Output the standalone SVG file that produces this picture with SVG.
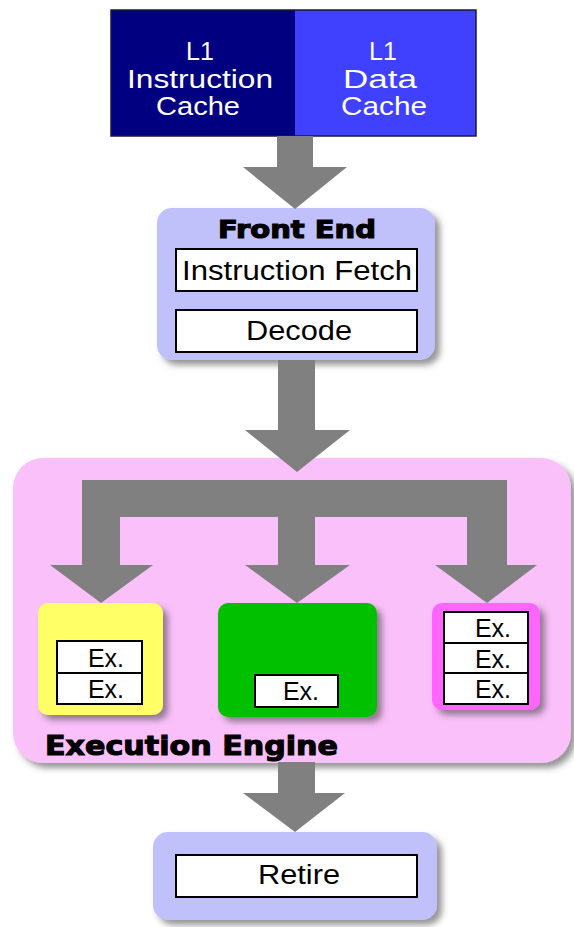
<svg xmlns="http://www.w3.org/2000/svg" width="574" height="927" viewBox="0 0 574 927">
<defs>
<filter id="sh" x="-10%" y="-10%" width="130%" height="130%">
<feDropShadow dx="5" dy="5" stdDeviation="3" flood-color="#404040" flood-opacity="0.55"/>
</filter>
<style>
.t{font-family:"Liberation Sans",Arial,sans-serif;fill:#000;text-anchor:middle}
.w{font-family:"Liberation Sans",Arial,sans-serif;fill:#fff;text-anchor:middle;font-size:25px}
.h{font-family:"DejaVu Sans","Liberation Sans",sans-serif;font-weight:bold;fill:#000;stroke:#000;stroke-width:1.1}
.box{fill:#fff;stroke:#000;stroke-width:2}
.arr{fill:#808080}
</style>
</defs>
<rect width="574" height="927" fill="#fff"/>

<g id="l1-cache">
<rect x="111" y="10" width="184" height="126" fill="#000080"/>
<rect x="295" y="10" width="181" height="126" fill="#4040FF"/>
<rect x="111" y="10" width="365" height="126" fill="none" stroke="#1a1a3a" stroke-width="1.5"/>
<text class="w" x="200" y="60">L1</text>
<text class="w" x="200" y="88" textLength="146" lengthAdjust="spacingAndGlyphs">Instruction</text>
<text class="w" x="198" y="115" textLength="84" lengthAdjust="spacingAndGlyphs">Cache</text>
<text class="w" x="383" y="60">L1</text>
<text class="w" x="380" y="88" textLength="74" lengthAdjust="spacingAndGlyphs">Data</text>
<text class="w" x="384" y="115" textLength="86" lengthAdjust="spacingAndGlyphs">Cache</text>
</g>

<g id="front-end">
<rect x="157" y="208" width="278" height="152" rx="15" fill="#C0C0FA" filter="url(#sh)"/>
<text class="h" x="297" y="238" font-size="24" text-anchor="middle" textLength="158" lengthAdjust="spacingAndGlyphs">Front End</text>
<rect class="box" x="176" y="249" width="241" height="42"/>
<text class="t" x="297" y="280" font-size="27" textLength="230" lengthAdjust="spacingAndGlyphs">Instruction Fetch</text>
<rect class="box" x="176" y="310" width="241" height="42"/>
<text class="t" x="299" y="340" font-size="27" textLength="106" lengthAdjust="spacingAndGlyphs">Decode</text>
</g>

<g id="execution-engine">
<rect x="13" y="458" width="558" height="305" rx="30" fill="#FAC0FA" filter="url(#sh)"/>
<text class="h" x="45" y="755" font-size="27" textLength="293" lengthAdjust="spacingAndGlyphs">Execution Engine</text>
</g>

<g id="connectors">
<polygon class="arr" points="277,136 313,136 313,167 347,167 295,209 243,167 277,167"/>
<polygon class="arr" points="278,360 315,360 315,430 350,430 297,472 245,430 278,430"/>
<polygon class="arr" points="82,480 507,480 507,565 537,565 487,603 435,565 467,565 467,517 315,517 315,565 350,565 297,603 245,565 278,565 278,517 120,517 120,565 153,565 101,603 50,565 82,565"/>
<polygon class="arr" points="278,762 315,762 315,793 345,793 295,832 243,793 278,793"/>
</g>

<g id="unit-yellow">
<rect x="38" y="603" width="125" height="112" rx="10" fill="#FFFF66" filter="url(#sh)"/>
<rect class="box" x="57" y="641" width="85" height="32"/>
<rect class="box" x="57" y="673" width="85" height="31"/>
<text class="t" x="106" y="667" font-size="25">Ex.</text>
<text class="t" x="106" y="698" font-size="25">Ex.</text>
</g>

<g id="unit-green">
<rect x="218" y="603" width="159" height="114" rx="10" fill="#00C000" filter="url(#sh)"/>
<rect class="box" x="255" y="675" width="83" height="32"/>
<text class="t" x="301" y="700" font-size="25">Ex.</text>
</g>

<g id="unit-magenta">
<rect x="432" y="603" width="108" height="107" rx="10" fill="#FF66FF" filter="url(#sh)"/>
<rect class="box" x="444" y="612" width="84" height="31"/>
<rect class="box" x="444" y="643" width="84" height="30"/>
<rect class="box" x="444" y="673" width="84" height="31"/>
<text class="t" x="493" y="637" font-size="25">Ex.</text>
<text class="t" x="493" y="668" font-size="25">Ex.</text>
<text class="t" x="493" y="698" font-size="25">Ex.</text>
</g>

<g id="retire">
<rect x="153" y="832" width="284" height="88" rx="15" fill="#C0C0FA" filter="url(#sh)"/>
<rect class="box" x="176" y="855" width="241" height="42"/>
<text class="t" x="299" y="884" font-size="27" textLength="82" lengthAdjust="spacingAndGlyphs">Retire</text>
</g>
</svg>
